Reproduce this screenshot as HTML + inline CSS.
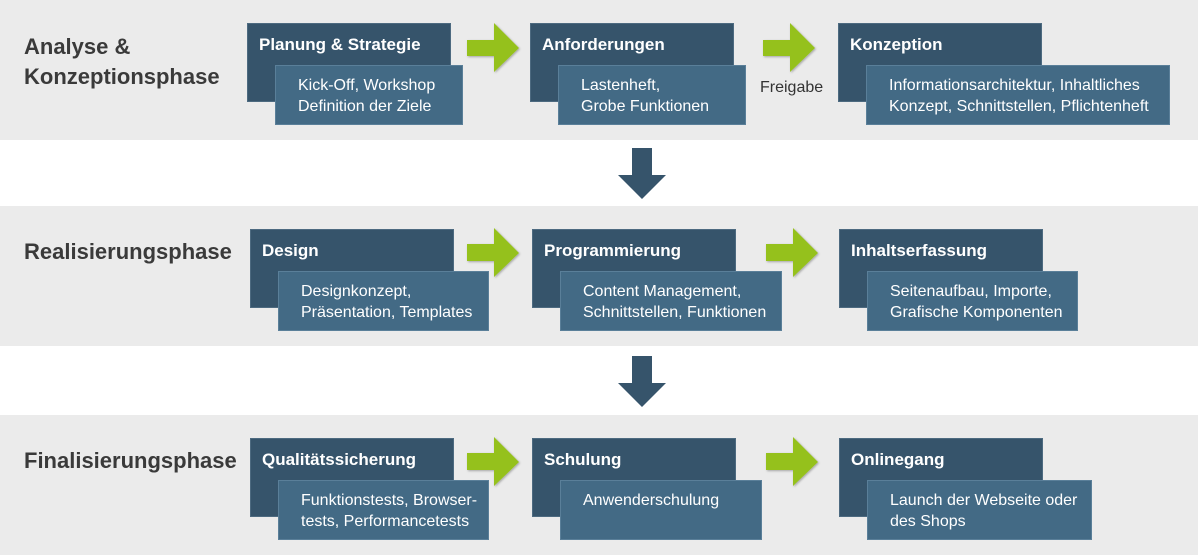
<!DOCTYPE html>
<html><head><meta charset="utf-8"><style>
body{margin:0;width:1200px;height:556px;background:#fff;position:relative;overflow:hidden;font-family:"Liberation Sans",sans-serif;}
.band{position:absolute;left:0;width:1198px;height:140px;background:#ebebeb}
.ph{position:absolute;font-weight:bold;font-size:22px;color:#3a3a3a;line-height:30px}
.d{position:absolute;width:204px;height:79px;background:#36546b;border:1px solid #4d6a80;box-sizing:border-box;color:#fff;font-weight:bold;font-size:17px;padding:11px 0 0 11px}
.l{position:absolute;height:60px;background:#436a85;border:1px solid #5a7f99;box-sizing:border-box;color:#fff;font-size:16px;line-height:21px;padding:9px 0 0 22px;white-space:nowrap}
svg{position:absolute}
</style></head><body>
<div class="band" style="top:0"></div>
<div class="band" style="top:206px"></div>
<div class="band" style="top:415px"></div>

<div class="ph" style="left:24px;top:32px">Analyse &amp;<br>Konzeptionsphase</div>
<div class="ph" style="left:24px;top:237px">Realisierungsphase</div>
<div class="ph" style="left:24px;top:446px">Finalisierungsphase</div>

<div class="d" style="left:247px;top:23px">Planung &amp; Strategie</div>
<div class="l" style="left:275px;top:65px;width:188px">Kick-Off, Workshop<br>Definition der Ziele</div>
<div class="d" style="left:530px;top:23px">Anforderungen</div>
<div class="l" style="left:558px;top:65px;width:188px">Lastenheft,<br>Grobe Funktionen</div>
<div class="d" style="left:838px;top:23px">Konzeption</div>
<div class="l" style="left:866px;top:65px;width:304px">Informationsarchitektur, Inhaltliches<br>Konzept, Schnittstellen, Pflichtenheft</div>
<div style="position:absolute;left:760px;top:79px;font-size:16px;color:#333">Freigabe</div>

<div class="d" style="left:250px;top:229px">Design</div>
<div class="l" style="left:278px;top:271px;width:211px">Designkonzept,<br>Präsentation, Templates</div>
<div class="d" style="left:532px;top:229px">Programmierung</div>
<div class="l" style="left:560px;top:271px;width:222px">Content Management,<br>Schnittstellen, Funktionen</div>
<div class="d" style="left:839px;top:229px">Inhaltserfassung</div>
<div class="l" style="left:867px;top:271px;width:211px">Seitenaufbau, Importe,<br>Grafische Komponenten</div>

<div class="d" style="left:250px;top:438px">Qualitätssicherung</div>
<div class="l" style="left:278px;top:480px;width:211px">Funktionstests, Browser-<br>tests, Performancetests</div>
<div class="d" style="left:532px;top:438px">Schulung</div>
<div class="l" style="left:560px;top:480px;width:202px">Anwenderschulung</div>
<div class="d" style="left:839px;top:438px">Onlinegang</div>
<div class="l" style="left:867px;top:480px;width:225px">Launch der Webseite oder<br>des Shops</div>

<svg width="1200" height="556" style="left:0;top:0">
<defs><filter id="s"><feDropShadow dx="1" dy="1" stdDeviation="1" flood-opacity="0.3"/></filter></defs>
<g fill="#95c11f" filter="url(#s)">
<polygon points="467,40 494,40 494,23 519,48 494,72 494,56 467,56"/>
<polygon points="763,40 790,40 790,23 815,48 790,72 790,56 763,56"/>
<polygon points="467,244 494,244 494,228 519,253 494,277 494,261 467,261"/>
<polygon points="766,244 793,244 793,228 818,253 793,277 793,261 766,261"/>
<polygon points="467,453 494,453 494,437 519,462 494,486 494,470 467,470"/>
<polygon points="766,453 793,453 793,437 818,462 793,486 793,470 766,470"/>
</g>
<g fill="#36546b">
<polygon points="632,148 652,148 652,175 666,175 642,199 618,175 632,175"/>
<polygon points="632,356 652,356 652,383 666,383 642,407 618,383 632,383"/>
</g>
</svg>
</body></html>
